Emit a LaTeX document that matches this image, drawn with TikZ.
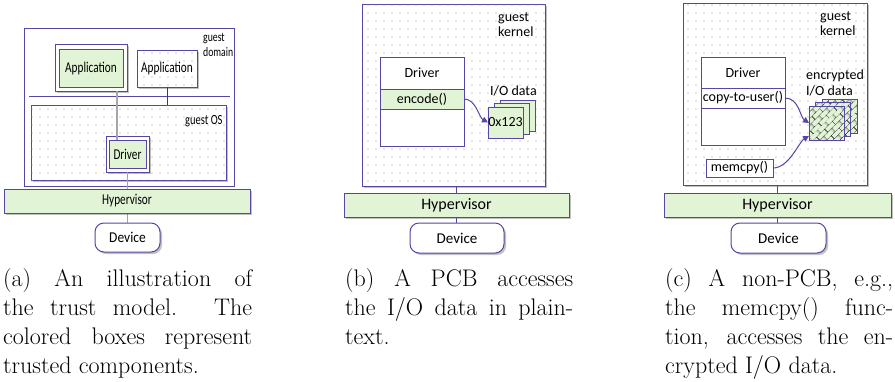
\documentclass[tikz,border=0pt]{standalone}
\usepackage{fontspec}
\usepackage{graphicx}
\newfontfamily\cf{Carlito}
\usetikzlibrary{patterns,patterns.meta,shadows,arrows.meta,calc}
\definecolor{purp}{HTML}{5646A6}
\definecolor{lgreen}{HTML}{E2F4D6}
\definecolor{lgray}{HTML}{A6A6A6}
\newcommand\atxt[1]{\scalebox{0.75}[1]{#1}}
\pgfdeclarelayer{front}
\pgfsetlayers{main,front}
\tikzdeclarepattern{
  name=sdots,
  type=uncolored,
  bottom left={(-1pt,-1pt)},
  top right={(1pt,1pt)},
  tile size={(8pt,8pt)},
  code={\fill (0pt,0pt) circle (0.6pt);}
}
\tikzdeclarepattern{
  name=dbricks,
  type=uncolored,
  bottom left={(0pt,0pt)},
  top right={(11pt,10pt)},
  tile size={(11pt,10pt)},
  tile transformation={rotate=45},
  code={\draw[line width=0.6pt] (0pt,2.5pt) -- (11pt,2.5pt) (0pt,7.5pt) -- (11pt,7.5pt)
        (2pt,2.5pt) -- (2pt,7.5pt) (7.5pt,7.5pt) -- (7.5pt,10pt) (7.5pt,0pt) -- (7.5pt,2.5pt);}
}
\tikzset{
  pb/.style={draw=purp, line width=1pt, inner sep=0pt, outer sep=0pt, anchor=north west},
  shd/.style={drop shadow={shadow xshift=2pt, shadow yshift=-2pt, opacity=0.35, fill=black!70}},
  dotfill/.style={fill=white, postaction={pattern=sdots, pattern color=black!40}},
  tr/.style={fill=lgreen},
  encpage/.style={pb, fill=lgreen, postaction={pattern=dbricks, pattern color=black!85},
    postaction={draw=purp, line width=1pt}},
  lbl/.style={inner sep=0pt, anchor=base west},
  conn/.style={draw=purp, line width=1.2pt},
  arr/.style={draw=purp, line width=1pt, -{Triangle[length=6pt,width=6pt]}},
  capt/.style={inner sep=0pt, anchor=base west, font=\rmfamily\fontsize{24}{29}\selectfont},
  hyp/.style={pb, shd, tr, font=\cf\fontsize{16}{16}\selectfont},
  dev/.style={pb, shd, fill=white, rounded corners=9pt, font=\cf\fontsize{15}{15}\selectfont}
}
\begin{document}
\begin{tikzpicture}[x=1pt, y=-1pt, font=\cf\fontsize{14}{16}\selectfont]
\useasboundingbox (0,0) rectangle (895,381);
% ---------- panel (a)
\node[pb, fill=white, line width=0.8pt, minimum width=210, minimum height=158] (domA) at (24,28) {};
\node[lbl, font=\cf\fontsize{13}{13}\selectfont] (gdA1) at (203,41) {\atxt{guest}};
\node[lbl, font=\cf\fontsize{13}{13}\selectfont] (gdA2) at (203,56.5) {\atxt{domain}};
\node[pb, shd, fill=white, minimum width=72, minimum height=47] (appGo) at (55,44) {};
\node[pb, tr, minimum width=64, minimum height=38, font=\cf\fontsize{15}{15}\selectfont] (appGi) at (59,49) {\atxt{Application}};
\node[pb, shd, dotfill, minimum width=60, minimum height=37, font=\cf\fontsize{15}{15}\selectfont] (appW) at (137,50) {\atxt{Application}};
\draw[purp, line width=0.8pt] (29,96) coordinate (sepL) -- (230,96) coordinate (sepR);
\node[pb, shd, dotfill, minimum width=195, minimum height=75] (osA) at (31,105) {};
\node[lbl] (osL) at (185,124) {\atxt{guest OS}};
\draw[black!75, line width=0.8pt] (appW.south) -- (appW.south |- osA.north);
\node[pb, shd, fill=white, minimum width=43, minimum height=36] (drvAo) at (106,136) {};
\node[pb, tr, minimum width=37, minimum height=28, font=\cf\fontsize{15}{15}\selectfont] (drvAi) at (109,140) {\atxt{Driver}};
\coordinate (gA) at (117,91);
\draw[lgray, line width=1.5pt] (gA) -- (gA |- drvAi.north);
\begin{pgfonlayer}{front}
\node[hyp, minimum width=246, minimum height=24, font=\cf\fontsize{15}{15}\selectfont] (hypA) at (4,189) {\atxt{Hypervisor}};
\node[dev, minimum width=65, minimum height=29] (devA) at (95,223) {\scalebox{0.9}[1]{Device}};
\end{pgfonlayer}
\draw[lgray, line width=1.5pt] (drvAo.south) -- (drvAo.south |- devA.north);
% ---------- panel (b)
\node[pb, shd, dotfill, minimum width=183, minimum height=182] (kerB) at (362,4) {};
\node[lbl] (gkB1) at (498,21.5) {guest};
\node[lbl] (gkB2) at (498,36.5) {kernel};
\node[pb, fill=white, minimum width=84, minimum height=32] (drvBt) at (380,57) {Driver};
\node[pb, tr, minimum width=84, minimum height=20] (drvBm) at (380,89) {encode()};
\node[pb, fill=white, minimum width=84, minimum height=37] (drvBb) at (380,109) {};
\node[lbl] (ioB) at (490,95.5) {I/O data};
\node[pb, tr, minimum width=35, minimum height=31] (pgB3) at (500,100) {};
\node[pb, tr, minimum width=35, minimum height=31] (pgB2) at (494,103.5) {};
\node[pb, tr, minimum width=35, minimum height=31] (pgB1) at (488,107) {0x123};
\draw[arr] (drvBm.east) .. controls +(12,0) and +(-9,-5) .. (pgB1.west);
\node[hyp, minimum width=225, minimum height=24] (hypB) at (344,193) {Hypervisor};
\node[dev, minimum width=94, minimum height=30] (devB) at (410,223) {Device};
\draw[conn] (hypB.north) -- (hypB.north |- kerB.south);
\draw[conn] (hypB.south) -- (hypB.south |- devB.north);
% ---------- panel (c)
\node[pb, shd, dotfill, minimum width=184, minimum height=182] (kerC) at (683,3) {};
\node[lbl] (gkC1) at (820,20.5) {guest};
\node[lbl] (gkC2) at (820,35.5) {kernel};
\node[pb, fill=white, minimum width=84, minimum height=31] (drvCt) at (701,57) {Driver};
\node[pb, fill=white, minimum width=84, minimum height=20] (drvCm) at (701,88) {copy-to-user()};
\node[pb, fill=white, minimum width=84, minimum height=37] (drvCb) at (701,108) {};
\node[lbl] (encC1) at (806,79.5) {encrypted};
\node[lbl] (encC2) at (806,95) {I/O data};
\node[encpage, minimum width=35, minimum height=34] (pgC3) at (822,99) {};
\node[encpage, minimum width=35, minimum height=34] (pgC2) at (815.5,102.5) {};
\node[encpage, minimum width=35, minimum height=34] (pgC1) at (809,106) {};
\node[pb, fill=white, minimum width=67, minimum height=18] (memC) at (706,159) {memcpy()};
\coordinate (pgC1in) at ($(pgC1.south west)!0.12!(pgC1.north west)$);
\draw[arr] (drvCm.east) .. controls +(14,0) and +(-9,-6) .. (pgC1.west);
\draw[arr] (memC.east) .. controls +(16,0) and +(-10,6) .. (pgC1in);
\node[hyp, minimum width=227, minimum height=24] (hypC) at (664,193) {Hypervisor};
\node[dev, minimum width=95, minimum height=30] (devC) at (731,223) {Device};
\draw[conn] (hypC.north) -- (hypC.north |- kerC.south);
\draw[conn] (hypC.south) -- (hypC.south |- devC.north);
% ---------- captions
\node[capt] (capA) at (3,286) {\parbox[t]{249pt}{\makebox[249pt][s]{(a) An illustration of}\\
  \makebox[249pt][s]{the trust model. The}\\
  \makebox[249pt][s]{colored boxes represent}\\
  trusted components.}};
\node[capt] (capB) at (345,286) {\parbox[t]{228pt}{\makebox[228pt][s]{(b) A PCB accesses}\\
  \makebox[228pt][s]{the I/O data in plain-}\\
  text.}};
\node[capt] (capC) at (665,286) {\parbox[t]{228pt}{\makebox[228pt][s]{(c) A non-PCB, e.g.,}\\
  \makebox[228pt][s]{the memcpy() func-}\\
  \makebox[228pt][s]{tion, accesses the en-}\\
  crypted I/O data.}};
\end{tikzpicture}
\end{document}
